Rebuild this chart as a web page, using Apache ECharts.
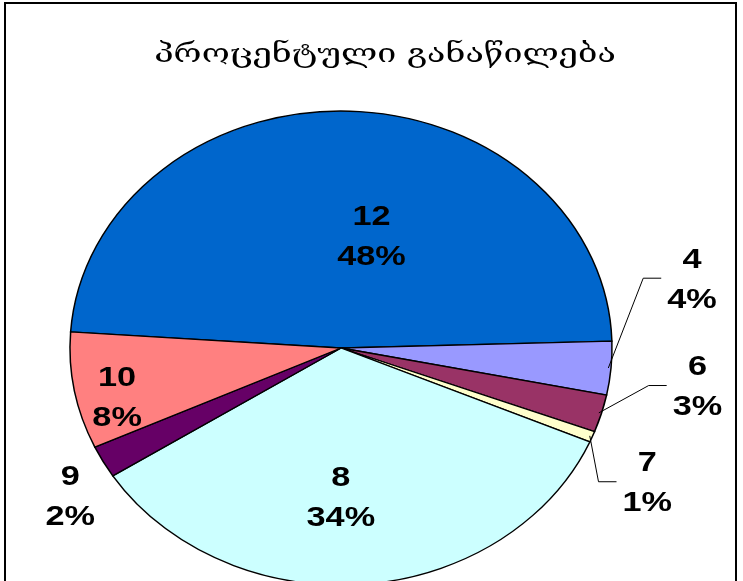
<!DOCTYPE html>
<html>
<head>
<meta charset="utf-8">
<script src="https://cdn.jsdelivr.net/npm/echarts@6/dist/echarts.min.js"></script>
<style>
  html, body { margin: 0; padding: 0; background: #fff; }
  #chart { width: 743px; height: 581px; }
</style>
</head>
<body>
<div id="chart"></div>
<script>
// slice names and their estimated share, clockwise from the big blue one
var categories = ['12', '4', '6', '7', '8', '9', '10'];
var shares = [48.45, 3.65, 2.55, 0.75, 34.45, 2.2, 7.95];
var colors = ['#0066CC', '#9999FF', '#993366', '#FFFFCC', '#CCFFFF', '#660066', '#FF8080'];
var titleText = 'პროცენტული განაწილება';

// pie geometry (squashed pie: drawn as a circle and scaled in y)
var CX = 341, CY = 348, RX = 271, RY = 237;
var START_DEG = 183.9; // first slice starts here, clockwise from 3 o'clock

// label placement: k = fraction of the radius along the slice middle,
// dx/dy = nudge in px, leader = draw a connector line
var labelLayout = [
  { k: 0.47, dx: 28, dy: 1 },
  { k: 1, dx: 81, dy: -88, leader: true },
  { k: 1, dx: 96, dy: -26, leader: true },
  { k: 1, dx: 55, dy: 47, leader: true },
  { k: 0.63, dx: -14, dy: 2 },
  { k: 1, dx: -33, dy: 36 },
  { k: 0.84, dx: 0, dy: 15 }
];

var LABEL_FONT = 'bold 27px "Liberation Sans", Arial, sans-serif';
var STRETCH = 1.27; // the original text is wider than normal

var total = shares.reduce(function (a, b) { return a + b; }, 0);
var angles = [START_DEG * Math.PI / 180];
shares.forEach(function (v, i) {
  angles.push(angles[i] + v / total * Math.PI * 2);
});

function pct(v) {
  return Math.round(v / total * 100) + '%';
}

var measureCtx = document.createElement('canvas').getContext('2d');
function textWidth(str) {
  measureCtx.font = LABEL_FONT;
  return measureCtx.measureText(str).width;
}

function edgePoint(a, k) {
  return [CX + k * RX * Math.cos(a), CY + k * RY * Math.sin(a)];
}

function renderSlice(params, api) {
  var i = params.dataIndex;
  return {
    type: 'sector',
    x: CX,
    y: CY,
    scaleY: RY / RX,
    shape: { cx: 0, cy: 0, r: RX, r0: 0, startAngle: angles[i], endAngle: angles[i + 1], clockwise: true },
    style: { fill: colors[i], stroke: '#000', lineWidth: 1.5, strokeNoScale: true }
  };
}

function renderLabel(params, api) {
  var i = params.dataIndex;
  var lay = labelLayout[i];
  var mid = (angles[i] + angles[i + 1]) / 2;
  var p = edgePoint(mid, lay.k);
  var lx = p[0] + lay.dx, ly = p[1] + lay.dy;
  var perc = pct(api.value(0));
  var children = [{
    type: 'text',
    x: lx,
    y: ly,
    scaleX: STRETCH,
    style: {
      text: categories[i] + '\n' + perc,
      font: LABEL_FONT,
      fill: '#000',
      align: 'center',
      verticalAlign: 'middle',
      lineHeight: 40
    }
  }];
  if (lay.leader) {
    var w = Math.max(textWidth(categories[i]), textWidth(perc)) * STRETCH;
    var left = lx - w / 2;
    var start = edgePoint(mid, 0.99);
    children.push({
      type: 'polyline',
      shape: { points: [start, [left - 24, ly - 2], [left - 6, ly - 2]] },
      style: { stroke: '#000', lineWidth: 1, fill: null }
    });
  }
  return { type: 'group', children: children };
}

var chart = echarts.init(document.getElementById('chart'));
chart.setOption({
  backgroundColor: '#fff',
  animation: false,
  graphic: [{
    type: 'text',
    x: 385,
    y: 41,
    scaleX: 1.26,
    style: {
      text: titleText,
      font: '27px "DejaVu Serif"',
      fill: '#000',
      align: 'center',
      verticalAlign: 'top'
    }
  }, {
    type: 'rect',
    shape: { x: 5, y: 3, width: 731, height: 640 },
    style: { fill: null, stroke: '#000', lineWidth: 2 },
    z: 10
  }],
  series: [{
    type: 'custom',
    name: 'slices',
    coordinateSystem: 'none',
    renderItem: renderSlice,
    data: shares.map(function (v) { return [v]; })
  }, {
    type: 'custom',
    name: 'labels',
    coordinateSystem: 'none',
    renderItem: renderLabel,
    data: shares.map(function (v) { return [v]; }),
    z: 5
  }]
});
</script>
</body>
</html>
